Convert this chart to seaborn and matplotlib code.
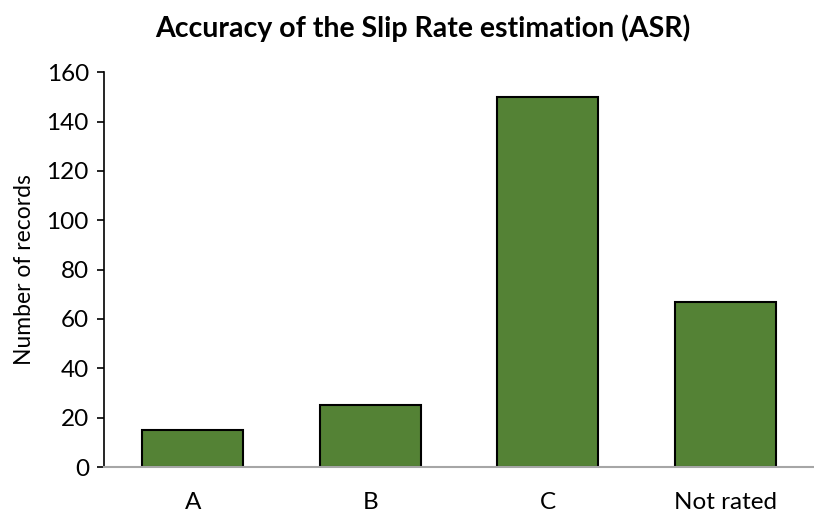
import pandas as pd
import seaborn as sns
import matplotlib.pyplot as plt

categories = ["A", "B", "C", "Not rated"]
records = [15, 25, 150, 67]

sns.set_theme(style="white")
plt.rcParams['font.family'] = ['Lato', 'DejaVu Sans']
plt.rcParams.update({'text.color': 'black', 'axes.labelcolor': 'black',
                     'xtick.color': 'black', 'ytick.color': 'black'})

df = pd.DataFrame({"rating": categories, "records": records})

fig = plt.figure(figsize=(8.14, 5.23), dpi=100)
ax = fig.add_axes([0.128, 0.107, 0.872, 0.755])

sns.barplot(data=df, x="rating", y="records", color="#548235", saturation=1,
            width=0.57, edgecolor="black", linewidth=1.5, ax=ax)

ax.set_ylim(0, 160)
ax.set_yticks(range(0, 161, 20))
ax.set_xlim(-0.5, 3.5)
ax.tick_params(axis='y', length=5, width=1.2, color='black', labelsize=17.5, pad=6, left=True)
ax.tick_params(axis='x', length=0, labelsize=17.5, pad=18)

for s in ["top", "right"]:
    ax.spines[s].set_visible(False)
ax.spines["left"].set_color("black")
ax.spines["left"].set_linewidth(1.2)
ax.spines["bottom"].set_color("#a6a6a6")
ax.spines["bottom"].set_linewidth(1.5)

ax.set_xlabel("")
ax.set_ylabel("Number of records", fontsize=16.5, labelpad=8)
fig.suptitle("Accuracy of the Slip Rate estimation (ASR)", fontsize=20.5, fontweight="bold",
             x=0.52, y=0.972)

fig.savefig("out.png", dpi=100)
